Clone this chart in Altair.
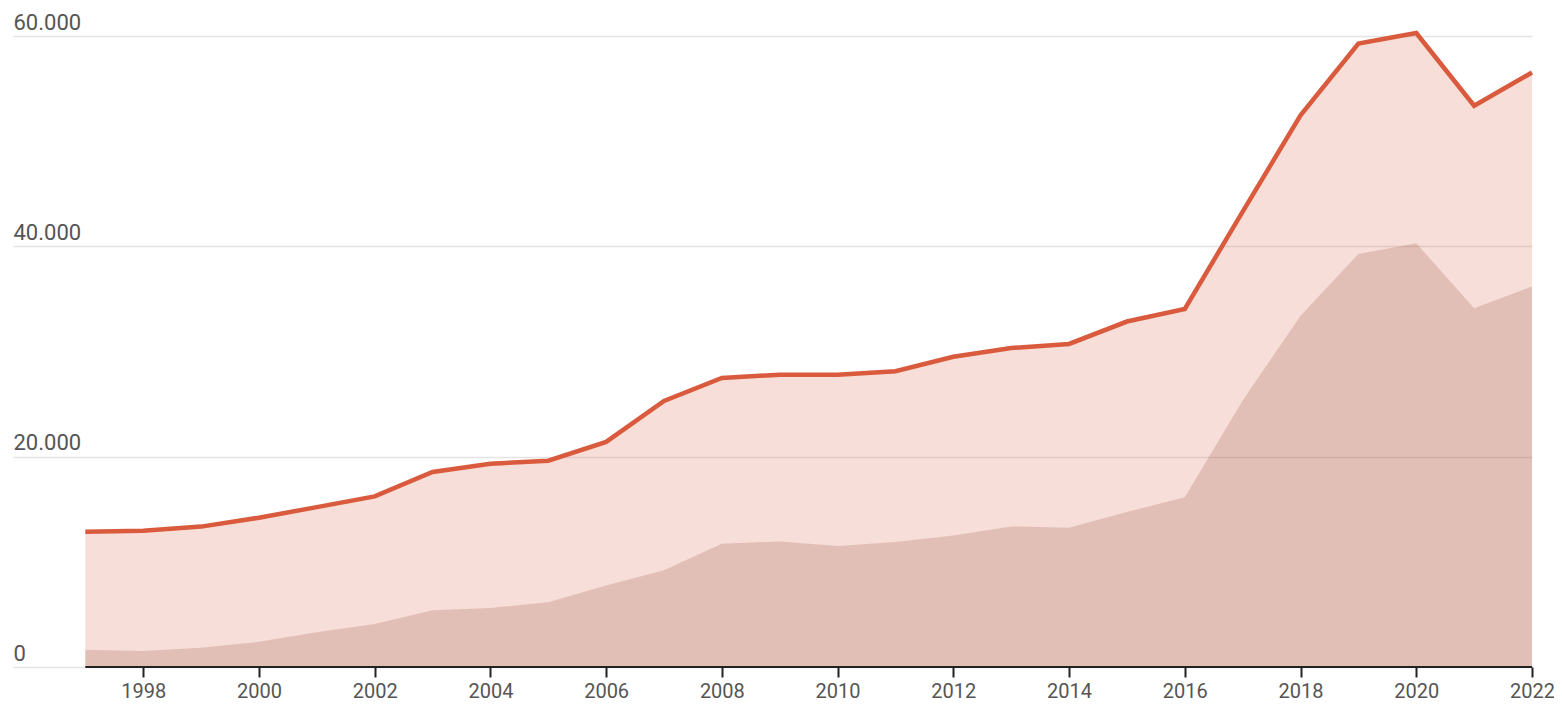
import altair as alt
import pandas as pd

years = list(range(1997, 2023))
total = [12850, 12950, 13350, 14200, 15200, 16220, 18550, 19320, 19620, 21400,
         25300, 27480, 27800, 27780, 28120, 29500, 30330, 30720, 32850, 34050,
         43300, 52450, 59280, 60280, 53370, 56530]
part = [1640, 1520, 1830, 2390, 3300, 4100, 5400, 5620, 6150, 7750,
        9200, 11720, 11940, 11500, 11880, 12500, 13370, 13240, 14730, 16150,
        25340, 33400, 39270, 40290, 34110, 36170]
x_ticks = list(range(1998, 2023, 2))
y_ticks = [0, 20000, 40000, 60000]

df = pd.DataFrame({"year": years, "total": total, "part": part})
axis_line = pd.DataFrame({"a": [years[0]], "b": [years[-1]], "y": [0]})

FONT = "Roboto"

xscale = alt.Scale(domain=[1995.75, 2022], nice=False, zero=False)
yscale = alt.Scale(domain=[0, 60000], nice=False)

x_axis = alt.Axis(values=x_ticks, format="d", title=None, grid=False, domain=False,
                  tickColor="#222222", tickWidth=2, tickSize=10, labelPadding=4,
                  labelFont=FONT, labelFontSize=20, labelColor="#555555",
                  labelFlush=False)
y_axis = alt.Axis(values=y_ticks, title=None, domain=False, ticks=False, tickSize=0,
                  labelAlign="left", labelBaseline="alphabetic", labelPadding=0,
                  labelOffset=-7, labelFlush=False,
                  labelExpr="replace(format(datum.value, ','), ',', '.')",
                  labelFont=FONT, labelFontSize=22, labelColor="#555555",
                  grid=True, gridColor="#e4e4e4", gridWidth=1.5)

base = alt.Chart(df)

upper = base.mark_area(color="#d95a3c", opacity=0.2).encode(
    x=alt.X("year:Q", scale=xscale, axis=x_axis),
    y=alt.Y("total:Q", scale=yscale, axis=y_axis),
)
lower = base.mark_area(color="#b07868", opacity=0.3).encode(
    x=alt.X("year:Q", scale=xscale),
    y=alt.Y("part:Q", scale=yscale),
)
line = base.mark_line(color="#d95a3c", strokeWidth=4.5).encode(
    x=alt.X("year:Q", scale=xscale),
    y=alt.Y("total:Q", scale=yscale),
)
baseline = alt.Chart(axis_line).mark_rule(color="#222222", strokeWidth=2).encode(
    x=alt.X("a:Q", scale=xscale),
    x2="b:Q",
    y=alt.Y("y:Q", scale=yscale),
)

chart = alt.layer(upper, lower, line, baseline).properties(
    width=1519, height=631,
    autosize="none",
    padding={"left": 5, "top": 28, "right": 22, "bottom": 38},
).configure_view(stroke=None)

chart.save("out.html", embed_options={"renderer": "svg", "actions": False})
